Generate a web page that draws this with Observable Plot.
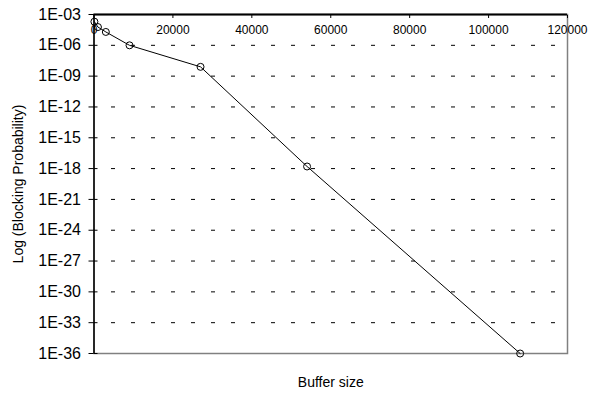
<!DOCTYPE html>
<html>
<head>
<meta charset="utf-8">
<script src="https://cdn.jsdelivr.net/npm/d3@7"></script>
<script src="https://cdn.jsdelivr.net/npm/@observablehq/plot@0.6"></script>
<style>
  html, body { margin: 0; padding: 0; background: #fff; }
  svg { display: block; }
</style>
</head>
<body>
<div id="chart"></div>
<script>
const bufferSize = [100, 1000, 3000, 9000, 27000, 54000, 108000];
const blockingProb = [2e-4, 6e-5, 2e-5, 1e-6, 8e-9, 1.6e-18, 1e-36];
const xTicks = [0, 20000, 40000, 60000, 80000, 100000, 120000];
const yTicks = [1e-3, 1e-6, 1e-9, 1e-12, 1e-15, 1e-18, 1e-21, 1e-24, 1e-27, 1e-30, 1e-33, 1e-36];
const xTitle = "Buffer size";
const yTitle = "Log (Blocking Probability)";

const data = bufferSize.map((x, i) => ({x, y: blockingProb[i]}));
const fmtY = d => "1E-" + String(-Math.round(Math.log10(d))).padStart(2, "0");
const font = "Liberation Sans, Arial, sans-serif";

const chart = Plot.plot({
  width: 589,
  height: 397,
  marginLeft: 93.5,
  marginRight: 22,
  marginTop: 14,
  marginBottom: 44,
  style: {fontFamily: font, fontSize: "12px", color: "#000", background: "#fff"},
  x: {domain: [0, 120000], axis: null},
  y: {type: "log", domain: [1e-36, 1e-3], axis: null},
  marks: [
    Plot.gridY(yTicks, {stroke: "#000", strokeOpacity: 1, strokeDasharray: "4,16", strokeDashoffset: 2.5}),
    Plot.frame({stroke: "#808080", strokeWidth: 1.5}),
    Plot.ruleY([1e-3], {stroke: "#000", strokeWidth: 2}),
    Plot.ruleX([0], {stroke: "#000", strokeWidth: 1.5}),
    Plot.axisY({ticks: yTicks, tickFormat: fmtY, tickSize: 5, tickPadding: 8, fontSize: 16, label: null}),
    Plot.axisY({ticks: yTicks, text: null, tickSize: -4, label: null}),
    Plot.axisX({anchor: "top", ticks: xTicks, tickSize: -3, label: null, text: null}),
    Plot.axisX({anchor: "top", ticks: xTicks, tickFormat: d => String(d), tickSize: 0, tickPadding: -11, lineAnchor: "top", label: null, fontSize: 12}),
    Plot.line(data, {x: "x", y: "y", stroke: "#000", strokeWidth: 1}),
    Plot.dot(data, {x: "x", y: "y", r: 3.5, stroke: "#000", strokeWidth: 1, fill: "none"}),
    Plot.text([xTitle], {frameAnchor: "bottom", dy: 29, fontSize: 14, fill: "#000", lineAnchor: "middle"}),
    Plot.text([yTitle], {frameAnchor: "left", dx: -75, rotate: -90, textAnchor: "middle", fontSize: 14, fill: "#000"})
  ]
});
document.getElementById("chart").append(chart);
</script>
</body>
</html>
